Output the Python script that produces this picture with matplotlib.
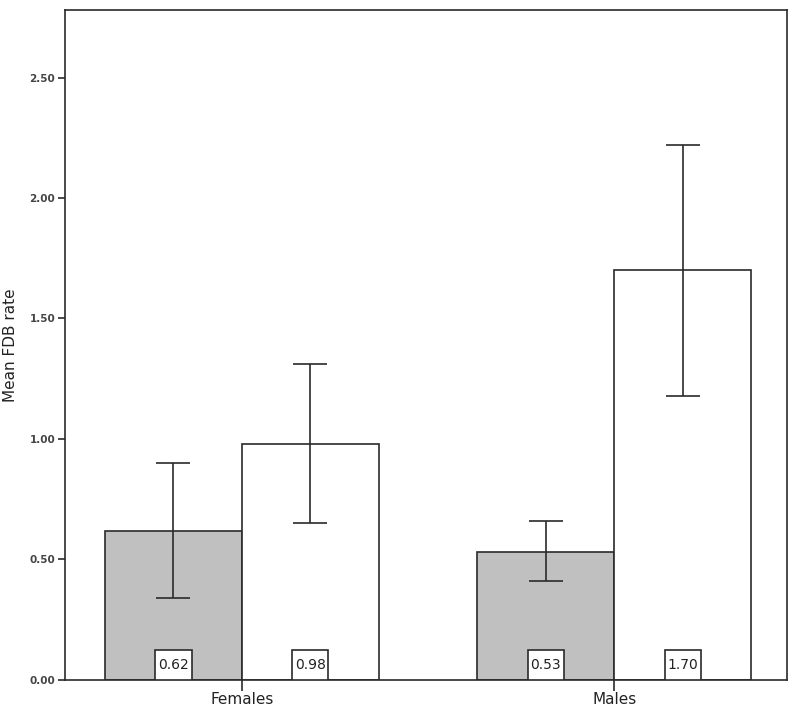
import numpy as np
import matplotlib.pyplot as plt
from matplotlib.patches import Rectangle
from matplotlib.transforms import blended_transform_factory

groups = ['Females', 'Males']
gray_means = [0.62, 0.53]
white_means = [0.98, 1.70]
gray_lo = [0.34, 0.41]
gray_hi = [0.90, 0.66]
white_lo = [0.65, 1.18]
white_hi = [1.31, 2.22]
ytick_vals = [0.0, 0.5, 1.0, 1.5, 2.0, 2.5]

fig = plt.figure(figsize=(8, 7.18), dpi=100)
ax = fig.add_axes([0.081, 0.053, 0.903, 0.933])
trans = blended_transform_factory(ax.transData, ax.transAxes)

x = np.arange(len(groups))
w = 0.368
edge = '#2a2a2a'
box_w = 0.097   # label box width, data units
box_h = 0.045   # label box height, axes fraction

def draw(xpos, means, lo, hi, color):
    means = np.array(means)
    err = [means - np.array(lo), np.array(hi) - means]
    ax.bar(xpos, means, w, color=color, edgecolor=edge, linewidth=1.2, zorder=2)
    ax.errorbar(xpos, means, yerr=err, fmt='none', ecolor=edge, elinewidth=1.2,
                capsize=12, capthick=1.2, zorder=3)
    for xi, m in zip(xpos, means):
        ax.add_patch(Rectangle((xi - box_w / 2, 0), box_w, box_h, transform=trans,
                               fc='white', ec=edge, lw=1.2, zorder=4))
        ax.text(xi, box_h / 2, '%.2f' % m, transform=trans, ha='center', va='center',
                fontsize=10, family='DejaVu Sans', color='#222222', zorder=5)

draw(x - w / 2, gray_means, gray_lo, gray_hi, '#c0c0c0')
draw(x + w / 2, white_means, white_lo, white_hi, 'white')

ax.set_xlim(-0.476, 1.465)
ax.set_ylim(0, 2.78)
ax.set_xticks(x)
ax.set_xticklabels(groups, fontsize=11, family='DejaVu Sans', color='#222222')
ax.set_yticks(ytick_vals)
ax.set_yticklabels(['%.2f' % v for v in ytick_vals], fontsize=7.5,
                   family='DejaVu Sans', fontweight='bold', color='#444444')
ax.tick_params(axis='x', length=8, width=1.2, color=edge, pad=1)
ax.tick_params(axis='y', length=5, width=1.2, color=edge, pad=2)
ax.set_ylabel('Mean FDB rate', fontsize=11,
              family=['Liberation Sans Narrow', 'DejaVu Sans'], color='#222222', labelpad=8)
for s in ax.spines.values():
    s.set_linewidth(1.2)
    s.set_color(edge)

fig.savefig('out.png', dpi=100)
